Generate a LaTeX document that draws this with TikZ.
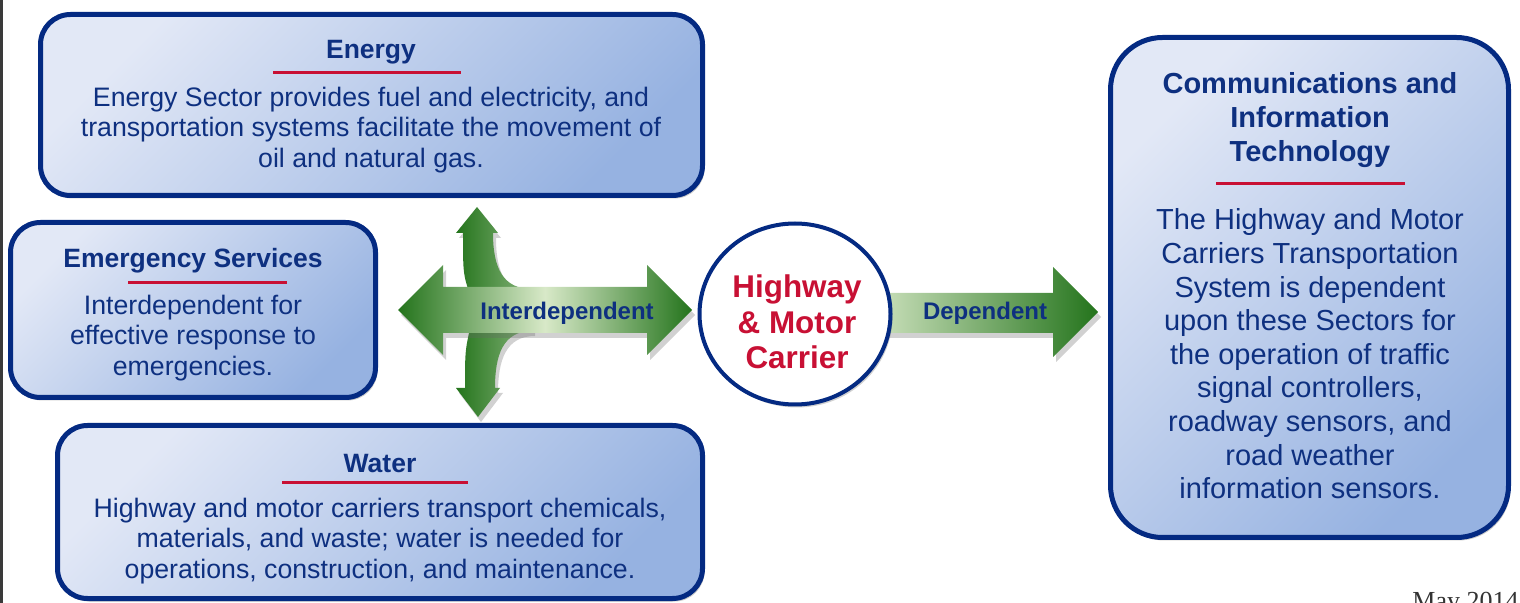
\documentclass[tikz,border=0pt]{standalone}
\usepackage{fontspec}
\setmainfont{Liberation Sans}
\newfontfamily\datefont{Liberation Serif}
\usetikzlibrary{shadows, shapes.geometric}
\definecolor{sectornavy}{RGB}{4,42,130}
\definecolor{sectortext}{RGB}{14,48,128}
\definecolor{sectorred}{RGB}{200,16,52}
\definecolor{boxlight}{RGB}{226,232,246}
\definecolor{boxdark}{RGB}{150,178,225}
\definecolor{arrdark}{RGB}{36,116,28}
\definecolor{arrlight}{RGB}{216,233,200}
\definecolor{edgegray}{RGB}{58,58,58}

\begin{document}
\begin{tikzpicture}[x=0.5pt, y=-0.5pt,
        sector/.style={
            draw=sectornavy,
            line width=2.5pt,
            rounded corners=15pt,
            left color=boxlight,
            right color=boxdark,
            shading angle=45,
            drop shadow={shadow xshift=1pt, shadow yshift=-1.5pt, opacity=0.35, fill=black!60},
            inner sep=0pt
          },
        title/.style={
            font=\fontsize{13.25}{15.5}\selectfont\bfseries,
            text=sectortext,
            align=center,
            inner sep=0pt
          },
        bigtitle/.style={
            title,
            font=\fontsize{14.5}{16.8}\selectfont\bfseries
          },
        body/.style={
            font=\fontsize{13.35}{15.4}\selectfont,
            text=sectortext,
            align=center,
            inner sep=0pt
          },
        bigbody/.style={
            body,
            font=\fontsize{14.5}{16.8}\selectfont
          },
        redrule/.style={
            fill=sectorred,
            minimum height=1.5pt,
            inner sep=0pt
          },
        hub/.style={
            ellipse,
            draw=sectornavy,
            fill=white,
            line width=2pt,
            minimum width=95.5pt,
            minimum height=90.5pt,
            inner sep=0pt,
            drop shadow={shadow xshift=1pt, shadow yshift=-1.5pt, opacity=0.3, fill=black!60}
          },
        hubtext/.style={
            font=\fontsize{15.7}{17.8}\selectfont\bfseries,
            text=sectorred,
            align=center,
            inner sep=0pt
          },
        greenarrow/.style={
            drop shadow={shadow xshift=1.5pt, shadow yshift=-2.5pt, opacity=0.3, fill=black!60}
          },
        arrowlabel/.style={
            font=\fontsize{12}{14}\selectfont\bfseries,
            text=sectortext,
            inner sep=0pt
          }
      ]
      \useasboundingbox (0,0) rectangle (1520,603);
      \fill[edgegray] (0,0) rectangle (3,603);

      \node[sector, minimum width=331pt, minimum height=90.5pt] (energy_box) at (371.5,105) {};
      \node[title] (energy_title) at (371,52) {Energy};
      \node[redrule, minimum width=94pt] (energy_rule) at (367,73) {};
      \node[body] (energy_text) at (371,130) {Energy Sector provides fuel and electricity, and\\transportation systems facilitate the movement of\\oil and natural gas.};

      \node[sector, minimum width=182.5pt, minimum height=87.5pt] (emergency_box) at (193,310) {};
      \node[title] (emergency_title) at (193,261) {Emergency Services};
      \node[redrule, minimum width=79.5pt] (emergency_rule) at (207.5,283) {};
      \node[body] (emergency_text) at (193,338) {Interdependent for\\effective response to\\emergencies.};

      \node[sector, minimum width=322.5pt, minimum height=86.5pt] (water_box) at (380,512) {};
      \node[title] (water_title) at (380,464) {Water};
      \node[redrule, minimum width=93pt] (water_rule) at (375,483) {};
      \node[body] (water_text) at (380,541) {Highway and motor carriers transport chemicals,\\materials, and waste; water is needed for\\operations, construction, and maintenance.};

      \node[sector, rounded corners=26pt, minimum width=199pt, minimum height=250pt] (comm_box) at (1309.5,287.5) {};
      \node[bigtitle] (comm_title) at (1310,120) {Communications and\\Information\\Technology};
      \node[redrule, minimum width=94.5pt] (comm_rule) at (1310.5,184) {};
      \node[bigbody] (comm_text) at (1310,354) {The Highway and Motor\\Carriers Transportation\\System is dependent\\upon these Sectors for\\the operation of traffic\\signal controllers,\\roadway sensors, and\\road weather\\information sensors.};

      \path[greenarrow, left color=arrdark, right color=arrlight!55!arrdark]
        (472,300) .. controls (463,275) .. (463,233) -- (456,233) -- (477,207) -- (498,233) -- (493,233)
        .. controls (493,268) and (503,289) .. (532,289) -- (532,300) -- cycle;
      \path[greenarrow, left color=arrdark, right color=arrlight!55!arrdark]
        (472,320) .. controls (465,350) .. (465,388) -- (456,388) -- (478,417) -- (500,388) -- (495,388)
        .. controls (495,355) and (503,331) .. (532,331) -- (532,320) -- cycle;
      \path[greenarrow, left color=arrdark, right color=arrdark, middle color=arrlight]
        (398,310) -- (443,265) -- (443,287) -- (647,287) -- (647,265) -- (692,310)
        -- (647,355) -- (647,333) -- (443,333) -- (443,355) -- cycle;
      \path[greenarrow, left color=arrlight, right color=arrdark]
        (860,293) -- (1053,293) -- (1053,267) -- (1098,312) -- (1053,357) -- (1053,333) -- (860,333) -- cycle;

      \node[arrowlabel] (inter_label) at (567,313) {Interdependent};
      \node[arrowlabel] (dep_label) at (985,313) {Dependent};

      \node[hub] (hub) at (795,314) {};
      \node[hubtext] (hub_label) at (797,322) {Highway\\\& Motor\\Carrier};

      \node[anchor=base west, inner sep=0pt, font=\datefont\fontsize{13}{15}\selectfont, text=black!80] (date_label) at (1412,610) {May 2014};
    \end{tikzpicture}
\end{document}
